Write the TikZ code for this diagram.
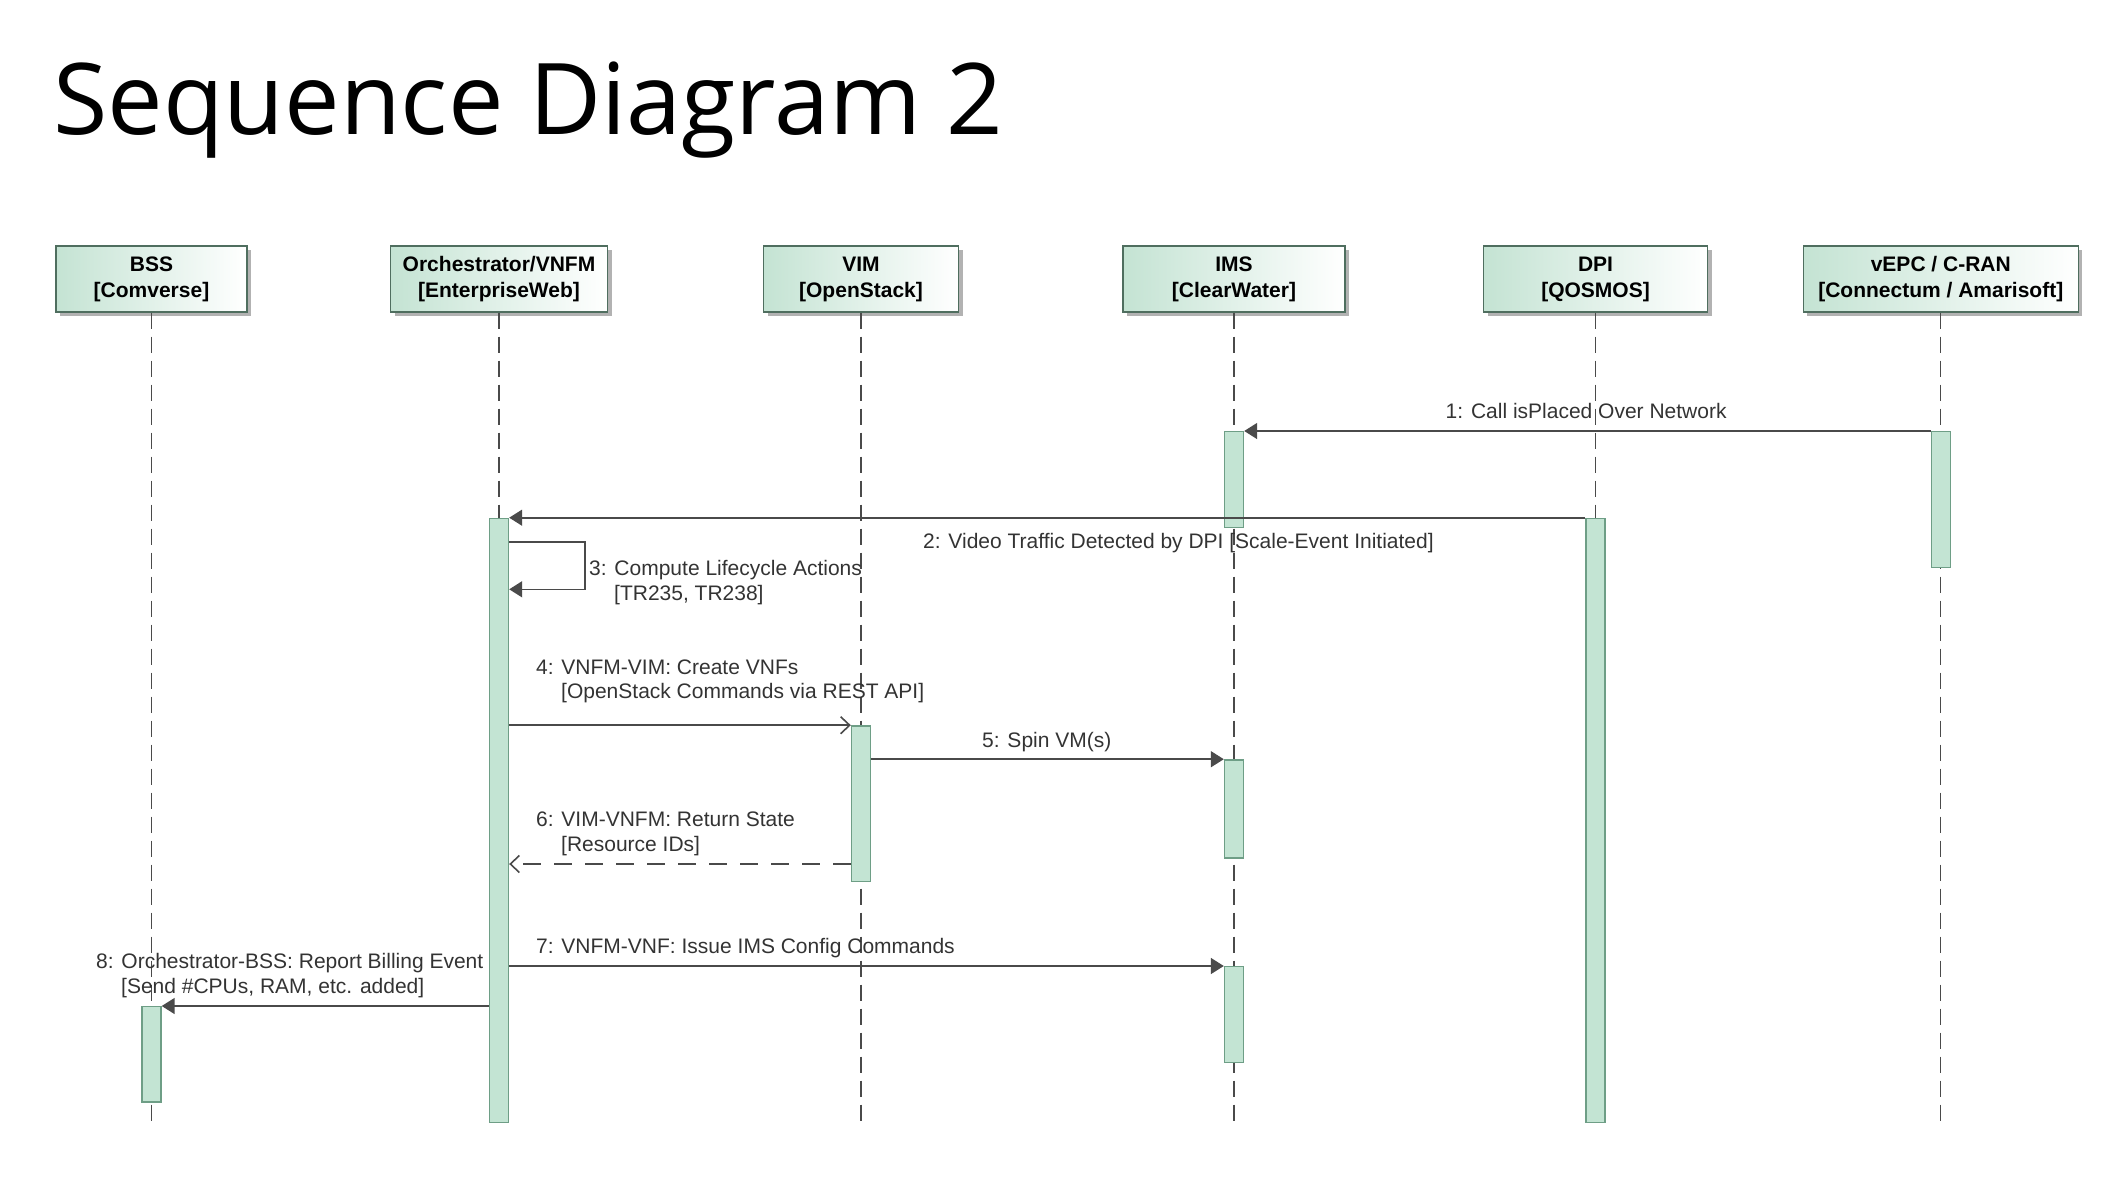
\documentclass[tikz,border=0pt]{standalone}
\usepackage{fontspec}
\setmainfont{Liberation Sans}
\newfontfamily\titlefont{Open Sans}
\usetikzlibrary{arrows.meta,shadows}
\definecolor{boxgreen}{HTML}{C4E3D3}
\definecolor{actgreen}{HTML}{C3E4D3}
\definecolor{actline}{HTML}{6E9E86}
\definecolor{boxline}{HTML}{4F6E5F}
\definecolor{msgline}{HTML}{4A4A4A}
\tikzset{
  actor/.style={draw=boxline, line width=1.4pt, left color=boxgreen, right color=white,
    minimum height=66pt, align=center, inner sep=0pt,
    font=\fontsize{21}{26}\selectfont\bfseries,
    drop shadow={shadow xshift=4pt, shadow yshift=-4pt, fill=black, opacity=0.3}},
  act/.style={draw=actline, fill=actgreen, line width=1.4pt, minimum width=19pt,
    anchor=north, inner sep=0pt},
  lifeline/.style={draw=msgline, line width=1.1pt, dash pattern=on 16pt off 8pt},
  msg/.style={draw=msgline, line width=1.6pt, -{Triangle[length=13pt,width=16pt]}},
  call/.style={draw=msgline, line width=1.6pt, -{Straight Barb[length=9pt,width=17pt]}},
  ret/.style={call, dash pattern=on 18pt off 13pt},
  msglabel/.style={anchor=base west, inner sep=0pt, align=left, text=black!80,
    font=\fontsize{21}{24.5}\selectfont},
}
\begin{document}
\begin{tikzpicture}[x=1pt, y=-1pt]
    \useasboundingbox (0,0) rectangle (2123,1191);
    \node[anchor=base west, inner sep=0pt, font=\titlefont\fontsize{99}{108}\selectfont] (title) at (53,134) {Sequence Diagram 2};
    \foreach \name/\x/\w/\txt in {bss/151.5/191/{BSS\\{}[Comverse]},
        orch/499/217/{Orchestrator/VNFM\\{}[EnterpriseWeb]},
        vim/861/195/{VIM\\{}[OpenStack]},
        ims/1234/222/{IMS\\{}[ClearWater]},
        dpi/1595.5/224/{DPI\\{}[QOSMOS]},
        vepc/1940.8/275/{vEPC / C-RAN\\{}[Connectum / Amarisoft]}} {
      \node[actor, minimum width=\w pt] (\name) at (\x,279) {\txt};
      \coordinate (\name end) at (\x,1122);
      \draw[lifeline] (\name) -- (\name end);
    }
    \node[act, minimum height=135.7pt] (vepcA) at (1940.8,431) {};
    \node[act, minimum height=95.7pt] (imsA) at (1234,431) {};
    \node[act, minimum height=604pt] (orchA) at (499,517.7) {};
    \node[act, minimum height=604pt] (dpiA) at (1595.5,517.7) {};
    \node[act, minimum height=155.5pt] (vimA) at (861,725.2) {};
    \node[act, minimum height=98pt] (imsB) at (1234,759.2) {};
    \node[act, minimum height=96pt] (imsC) at (1234,966) {};
    \node[act, minimum height=95.4pt] (bssA) at (151.5,1006) {};
    \coordinate (back) at (861,864);
    \draw[msg] (vepcA.north west) -- (imsA.north east);
    \draw[msg] (dpiA.north west) -- (orchA.north east);
    \draw[msg] ([yshift=-24pt]orchA.north east) -- ++(75.6,0) -- ++(0,47.6) -- ([yshift=-71.6pt]orchA.north east);
    \draw[call] (orchA.east |- vimA.north) -- (vimA.north west);
    \draw[msg] (vimA.east |- imsB.north) -- (imsB.north west);
    \draw[ret] (vimA.west |- back) -- (orchA.east |- back);
    \draw[msg] (orchA.east |- imsC.north) -- (imsC.north west);
    \draw[msg] (orchA.west |- bssA.north) -- (bssA.north east);
    \node[msglabel] (l1) at (1445.5,418) {1: Call isPlaced Over Network};
    \node[msglabel] (l2) at (923,548) {2: Video Traffic Detected by DPI [Scale-Event Initiated]};
    \node[msglabel] (l3) at (589,600) {3: Compute Lifecycle Actions\\\hspace*{25pt}[TR235, TR238]};
    \node[msglabel] (l4) at (536,698.5) {4: VNFM-VIM: Create VNFs\\\hspace*{25pt}[OpenStack Commands via REST API]};
    \node[msglabel] (l5) at (982,747.5) {5: Spin VM(s)};
    \node[msglabel] (l6) at (536,851) {6: VIM-VNFM: Return State\\\hspace*{25pt}[Resource IDs]};
    \node[msglabel] (l7) at (536,953) {7: VNFM-VNF: Issue IMS Config Commands};
    \node[msglabel] (l8) at (96,993.3) {8: Orchestrator-BSS: Report Billing Event\\\hspace*{25pt}[Send \#CPUs, RAM, etc. added]};
  \end{tikzpicture}
\end{document}
